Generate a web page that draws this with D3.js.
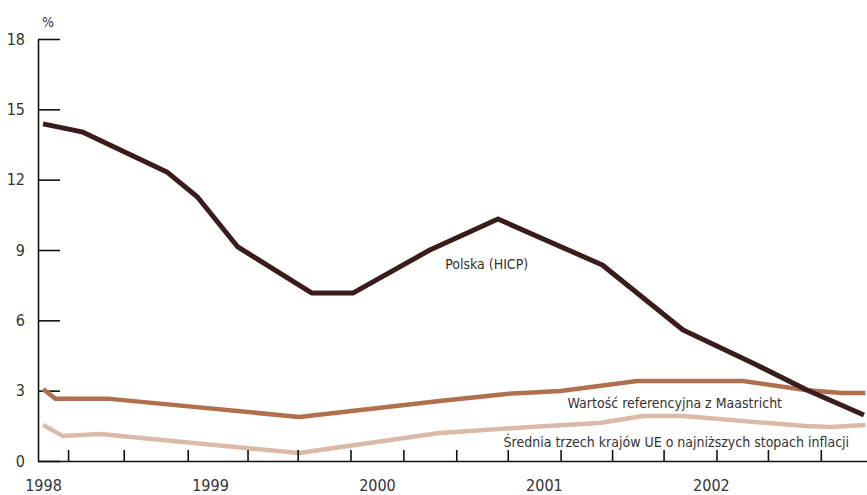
<!DOCTYPE html>
<html>
<head>
<meta charset="utf-8">
<script src="https://cdn.jsdelivr.net/npm/d3@7"></script>
<style>
  body { margin: 0; background: #fff; }
  text { font-family: "Liberation Sans Narrow", "DejaVu Sans Condensed", sans-serif; fill: #333; }
</style>
</head>
<body>
<div class="holder"></div>
<script>
"use strict";

// months counted from January 1998, values in %
const polskaMonth = [0, 2.8, 8.9, 11.1, 14.0, 19.3, 22.3, 27.8, 32.7, 40.2, 46.0, 51.0, 54.9, 59.0];
const polskaValue = [14.38, 14.04, 12.33, 11.26, 9.13, 7.17, 7.17, 9.0, 10.32, 8.36, 5.59, 4.18, 3.03, 1.96];

const maastrichtMonth = [0, 0.9, 4.8, 18.4, 28.5, 33.3, 37.2, 42.7, 50.3, 54.8, 57.4, 59.1];
const maastrichtValue = [3.07, 2.65, 2.65, 1.88, 2.56, 2.86, 2.99, 3.41, 3.41, 3.03, 2.9, 2.9];

const sredniaMonth = [0, 1.4, 4.1, 18.4, 28.5, 35.0, 40.0, 43.1, 46.0, 54.8, 56.6, 59.1];
const sredniaValue = [1.54, 1.07, 1.15, 0.34, 1.19, 1.45, 1.62, 1.92, 1.92, 1.49, 1.45, 1.54];

const seriesNames = [
  "Polska (HICP)",
  "Wartość referencyjna z Maastricht",
  "Średnia trzech krajów UE o najniższych stopach inflacji"
];
const labelMonth = [28.9, 37.7, 33.1];
const labelValue = [8.19, 2.26, 0.6];

const yTicks = [0, 3, 6, 9, 12, 15, 18];
const tickMonths = [1.8, 5.8, 10.4, 14.7, 18.3, 22.1, 25.9, 29.7, 33.4, 37.2, 40.9, 44.6, 48.4, 52.1, 55.9];
const yearMonths = [0, 12, 24, 36, 48];
const yearLabels = ["1998", "1999", "2000", "2001", "2002"];

const w = 867;
const h = 495;
const colors = ["#3b1c1c", "#b0704e", "#dab9a6"];
const widths = [5, 4.5, 4.5];

const svg = d3
  .select(".holder")
  .append("svg")
  .attr("width", w)
  .attr("height", h);

const x = d3.scaleLinear().domain([-0.36, 59.22]).range([38, 867]);
const y = d3.scaleLinear().domain([0, 18]).range([461, 39]);

// y axis, ticks pointing into the plot
const yAxis = svg
  .append("g")
  .attr("transform", "translate(38,0)")
  .call(
    d3.axisLeft(y).tickValues(yTicks).tickSize(-22).tickSizeOuter(0).tickPadding(13)
  );
yAxis.selectAll("text").style("font-size", "16px").attr("fill", "#333");

svg
  .append("text")
  .attr("x", 48)
  .attr("y", y(18) - 12)
  .attr("text-anchor", "middle")
  .style("font-size", "14px")
  .text("%");

const series = [
  [polskaMonth, polskaValue],
  [maastrichtMonth, maastrichtValue],
  [sredniaMonth, sredniaValue]
];

const line = d3
  .line()
  .x((d) => x(d[0]))
  .y((d) => y(d[1]));

// draw light lines first so Polska sits on top
[2, 1, 0].forEach((i) => {
  const pts = series[i][0].map((m, j) => [m, series[i][1][j]]);
  svg
    .append("path")
    .datum(pts)
    .attr("d", line)
    .attr("fill", "none")
    .attr("stroke", colors[i])
    .attr("stroke-width", widths[i])
    .attr("stroke-linejoin", "round");
});

// x axis with small upward ticks
svg
  .append("g")
  .attr("transform", "translate(0,461)")
  .call(
    d3.axisBottom(x).tickValues(tickMonths).tickSize(-11).tickSizeOuter(0).tickFormat("")
  );

const yearAxis = svg
  .append("g")
  .attr("transform", "translate(0,461)")
  .call(
    d3
      .axisBottom(x)
      .tickValues(yearMonths)
      .tickSize(0)
      .tickPadding(19)
      .tickFormat((d, i) => yearLabels[i])
  );
yearAxis.select(".domain").remove();
yearAxis.selectAll("text").style("font-size", "16px").attr("fill", "#333");

svg.selectAll(".domain, .tick line").attr("stroke", "#111").attr("stroke-width", 1.6);

svg
  .selectAll(".series-label")
  .data(seriesNames)
  .enter()
  .append("text")
  .attr("class", "series-label")
  .attr("x", (d, i) => x(labelMonth[i]))
  .attr("y", (d, i) => y(labelValue[i]))
  .style("font-size", "14px")
  .text((d) => d);
</script>
</body>
</html>
